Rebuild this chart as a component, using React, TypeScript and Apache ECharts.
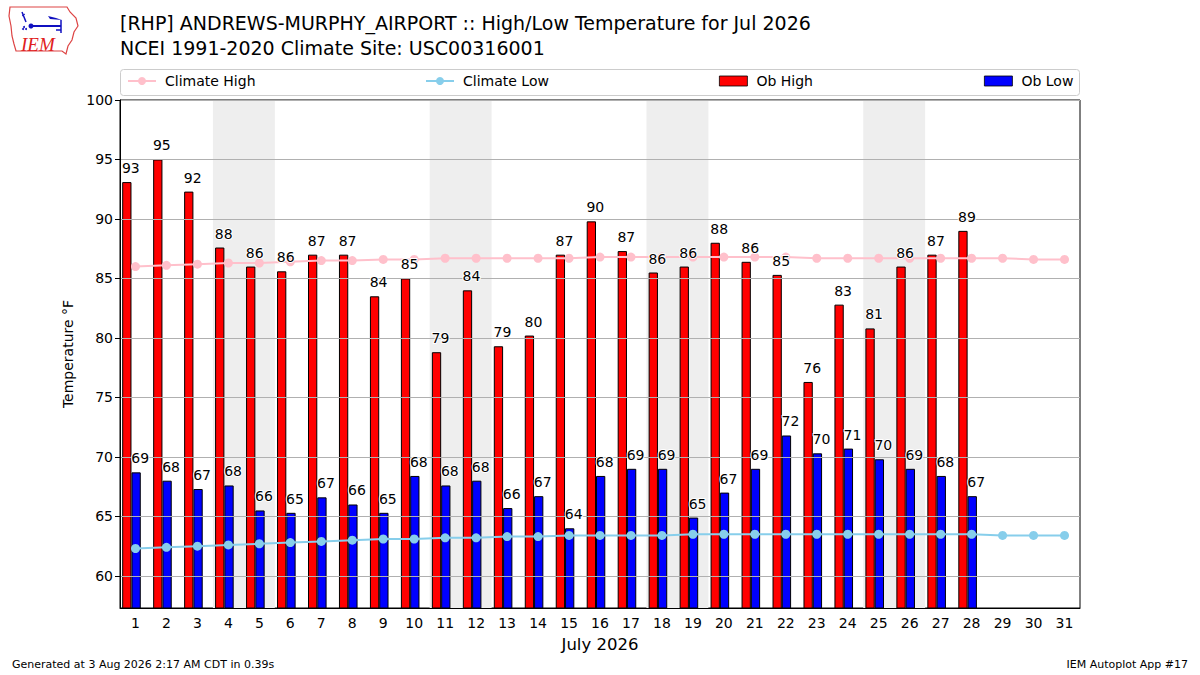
import React, { useEffect, useRef } from 'react';
import * as echarts from 'echarts';

// July 2026 days
const days = [
  '1', '2', '3', '4', '5', '6', '7', '8', '9', '10', '11', '12', '13', '14', '15', '16',
  '17', '18', '19', '20', '21', '22', '23', '24', '25', '26', '27', '28', '29', '30', '31',
];
// saturdays, each shaded with the sunday after it
const weekendStarts = ['4', '11', '18', '25'];

const obHigh = [
  93.1, 95.0, 92.3, 87.6, 86.0, 85.6, 87.0, 87.0, 83.5, 85.0, 78.8, 84.0, 79.3, 80.2,
  87.0, 89.8, 87.3, 85.5, 86.0, 88.0, 86.4, 85.3, 76.3, 82.8, 80.8, 86.0, 87.0, 89.0,
];
const obLow = [
  68.7, 68.0, 67.3, 67.6, 65.5, 65.3, 66.6, 66.0, 65.3, 68.4, 67.6, 68.0, 65.7, 66.7,
  64.0, 68.4, 69.0, 69.0, 64.9, 67.0, 69.0, 71.8, 70.3, 70.7, 69.8, 69.0, 68.4, 66.7,
];
const climateHigh = [
  86.0, 86.1, 86.2, 86.3, 86.3, 86.4, 86.5, 86.5, 86.6, 86.6, 86.7, 86.7, 86.7, 86.7, 86.7, 86.8,
  86.8, 86.8, 86.8, 86.8, 86.8, 86.8, 86.7, 86.7, 86.7, 86.7, 86.7, 86.7, 86.7, 86.6, 86.6,
];
const climateLow = [
  62.3, 62.4, 62.5, 62.6, 62.7, 62.8, 62.9, 63.0, 63.1, 63.1, 63.2, 63.2, 63.3, 63.3, 63.4, 63.4,
  63.4, 63.4, 63.5, 63.5, 63.5, 63.5, 63.5, 63.5, 63.5, 63.5, 63.5, 63.5, 63.4, 63.4, 63.4,
];

const yTicks = [60, 65, 70, 75, 80, 85, 90, 95, 100];
const yMin = 57.3;
const yMax = 100;

const FONT = 'DejaVu Sans';

const labelStyle = {
  show: true,
  position: 'top' as const,
  distance: 7,
  fontFamily: FONT,
  fontSize: 14,
  color: '#000',
  textBorderColor: '#fff',
  textBorderWidth: 2,
  formatter: (p: any) => String(Math.round(p.value)),
};

// IEM logo, drawn roughly
const iowaOutline = [
  [10, 7], [67, 7], [70, 12], [76, 18], [78, 26], [74, 32], [72, 40], [68, 46], [66, 54],
  [62, 51], [16, 51], [14, 44], [12, 36], [11, 26], [9, 16], [10, 7],
];

const barIcon = 'path://M0,0L28,0L28,10L0,10Z';

const App: React.FC = () => {
  const chartRef = useRef<HTMLDivElement>(null);

  useEffect(() => {
    if (!chartRef.current) return;
    const chart = echarts.init(chartRef.current, undefined, { renderer: 'svg' });

    const legendBase = {
      top: 74,
      padding: 0,
      itemWidth: 28,
      itemHeight: 10,
      textStyle: { fontFamily: FONT, fontSize: 14, color: '#000', padding: [0, 0, 0, 4] },
      selectedMode: false,
    };

    const plot = { top: 100, bottom: 67 };

    chart.setOption({
      animation: false,
      backgroundColor: '#fff',
      title: {
        text: '[RHP] ANDREWS-MURPHY_AIRPORT :: High/Low Temperature for Jul 2026\nNCEI 1991-2020 Climate Site: USC00316001',
        left: 120,
        top: 10,
        padding: 0,
        textStyle: { fontFamily: FONT, fontSize: 19, fontWeight: 'normal', color: '#000', lineHeight: 25 },
      },
      legend: [
        { ...legendBase, left: 127, data: ['Climate High'] },
        { ...legendBase, left: 425, data: ['Climate Low'] },
        {
          ...legendBase,
          left: 719,
          data: [{ name: 'Ob High', icon: barIcon, itemStyle: { color: '#ff0000', borderColor: '#000', borderWidth: 0.8 } }],
        },
        {
          ...legendBase,
          left: 984,
          data: [{ name: 'Ob Low', icon: barIcon, itemStyle: { color: '#0000ff', borderColor: '#000', borderWidth: 0.8 } }],
        },
      ],
      grid: [
        {
          left: 120,
          right: 120,
          ...plot,
          show: true,
          borderColor: '#000',
          borderWidth: 1,
          backgroundColor: 'transparent',
        },
        // bars sit a little left of the day ticks, as in the source plot
        { left: 116, right: 124, ...plot },
      ],
      xAxis: [
        {
          type: 'category',
          data: days,
          z: 6,
          name: 'July 2026',
          nameLocation: 'middle',
          nameGap: 28,
          nameTextStyle: { fontFamily: FONT, fontSize: 16.5, color: '#000' },
          axisLine: { lineStyle: { color: '#000', width: 1 } },
          axisTick: { alignWithLabel: true, length: 5, lineStyle: { color: '#000' } },
          axisLabel: { fontFamily: FONT, fontSize: 14, color: '#000', margin: 8, interval: 0 },
          splitLine: { show: false },
        },
        { type: 'category', data: days, show: false },
        { type: 'category', data: days, show: false, gridIndex: 1 },
      ],
      yAxis: [
        {
          type: 'value',
          min: yMin,
          max: yMax,
          z: 3,
          name: 'Temperature °F',
          nameLocation: 'middle',
          nameGap: 41,
          nameTextStyle: { fontFamily: FONT, fontSize: 14, color: '#000' },
          axisLine: { show: true, lineStyle: { color: '#000', width: 1 } },
          axisTick: { show: true, length: 5, lineStyle: { color: '#000' }, customValues: yTicks },
          axisLabel: { fontFamily: FONT, fontSize: 14, color: '#000', margin: 7, customValues: yTicks },
          splitLine: { show: true, lineStyle: { color: '#b0b0b0', width: 1 } },
        },
        { type: 'value', min: yMin, max: yMax, gridIndex: 1, show: false, splitLine: { show: false } },
      ],
      graphic: [
        {
          type: 'rect',
          z: 0,
          shape: { x: 120.5, y: 69.5, width: 959, height: 26, r: 3 },
          style: { fill: '#fff', stroke: '#cccccc', lineWidth: 1 },
        },
        {
          type: 'group',
          x: 0,
          y: 0,
          children: [
            { type: 'polygon', shape: { points: iowaOutline }, style: { fill: 'none', stroke: '#dd4444', lineWidth: 1.2 } },
            { type: 'line', shape: { x1: 31, y1: 26, x2: 61, y2: 26 }, style: { stroke: '#1010c0', lineWidth: 2 } },
            { type: 'circle', shape: { cx: 31, cy: 26, r: 2.5 }, style: { fill: '#1010c0' } },
            { type: 'polygon', shape: { points: [[48, 16], [56, 18], [62, 20], [50, 19]] }, style: { fill: '#1010c0' } },
            { type: 'line', shape: { x1: 61, y1: 20, x2: 61, y2: 33 }, style: { stroke: '#1010c0', lineWidth: 1.5 } },
            { type: 'line', shape: { x1: 56, y1: 30, x2: 61, y2: 30 }, style: { stroke: '#1010c0', lineWidth: 1.5 } },
            { type: 'line', shape: { x1: 26, y1: 22, x2: 22, y2: 12 }, style: { stroke: '#1010c0', lineWidth: 1.5 } },
            { type: 'line', shape: { x1: 22, y1: 16, x2: 25, y2: 14 }, style: { stroke: '#1010c0', lineWidth: 1 } },
            { type: 'circle', shape: { cx: 24, cy: 27, r: 1 }, style: { fill: '#1010c0' } },
            { type: 'circle', shape: { cx: 26, cy: 29, r: 1 }, style: { fill: '#1010c0' } },
            { type: 'circle', shape: { cx: 23, cy: 29, r: 1 }, style: { fill: '#1010c0' } },
            {
              type: 'text',
              x: 21,
              y: 35,
              style: {
                text: 'IEM',
                fontFamily: 'Liberation Serif',
                fontStyle: 'italic',
                fontSize: 19,
                fill: '#e02020',
              },
            },
          ],
        },
        {
          type: 'text',
          left: 12,
          top: 659,
          style: { text: 'Generated at 3 Aug 2026 2:17 AM CDT in 0.39s', fontFamily: FONT, fontSize: 11, fill: '#000' },
        },
        {
          type: 'text',
          right: 12,
          top: 659,
          style: { text: 'IEM Autoplot App #17', fontFamily: FONT, fontSize: 11, fill: '#000' },
        },
      ],
      series: [
        {
          name: 'weekend',
          type: 'custom',
          z: 1,
          silent: true,
          data: weekendStarts.map((d) => [days.indexOf(d), yMax]),
          renderItem: (params: any, api: any) => {
            const c = api.coord([api.value(0), yMax]);
            const bw = api.size([1, 0])[0];
            const cs = params.coordSys;
            return {
              type: 'rect',
              shape: { x: c[0] - bw / 2, y: cs.y, width: bw * 2, height: cs.height },
              style: { fill: '#eeeeee' },
            };
          },
        },
        {
          name: 'Ob High',
          type: 'bar',
          xAxisIndex: 2,
          yAxisIndex: 1,
          z: 2,
          data: obHigh,
          barWidth: '30%',
          barGap: '0%',
          itemStyle: { color: '#ff0000', borderColor: '#000', borderWidth: 1 },
        },
        {
          name: 'Ob Low',
          type: 'bar',
          xAxisIndex: 2,
          yAxisIndex: 1,
          z: 2,
          data: obLow,
          barWidth: '30%',
          barGap: '0%',
          itemStyle: { color: '#0000ff', borderColor: '#000', borderWidth: 1 },
        },
        {
          name: 'Climate High',
          type: 'line',
          z: 4,
          data: climateHigh,
          symbol: 'circle',
          symbolSize: 9,
          itemStyle: { color: '#ffc0cb' },
          lineStyle: { color: '#ffc0cb', width: 2 },
        },
        {
          name: 'Climate Low',
          type: 'line',
          z: 4,
          data: climateLow,
          symbol: 'circle',
          symbolSize: 9,
          itemStyle: { color: '#87ceeb' },
          lineStyle: { color: '#87ceeb', width: 2 },
        },
        // labels drawn on a twin axis so they sit above the grid lines
        {
          name: 'highLabels',
          type: 'bar',
          xAxisIndex: 1,
          z: 5,
          silent: true,
          data: obHigh,
          barWidth: '30%',
          barGap: '0%',
          itemStyle: { color: 'rgba(0,0,0,0)' },
          label: labelStyle,
        },
        {
          name: 'lowLabels',
          type: 'bar',
          xAxisIndex: 1,
          z: 5,
          silent: true,
          data: obLow,
          barWidth: '30%',
          barGap: '0%',
          itemStyle: { color: 'rgba(0,0,0,0)' },
          label: labelStyle,
        },
      ],
    });

    return () => {
      chart.dispose();
    };
  }, []);

  return (
    <div
      ref={chartRef}
      style={{ position: 'absolute', left: 0, top: 0, width: 1200, height: 675 }}
    />
  );
};

export default App;
